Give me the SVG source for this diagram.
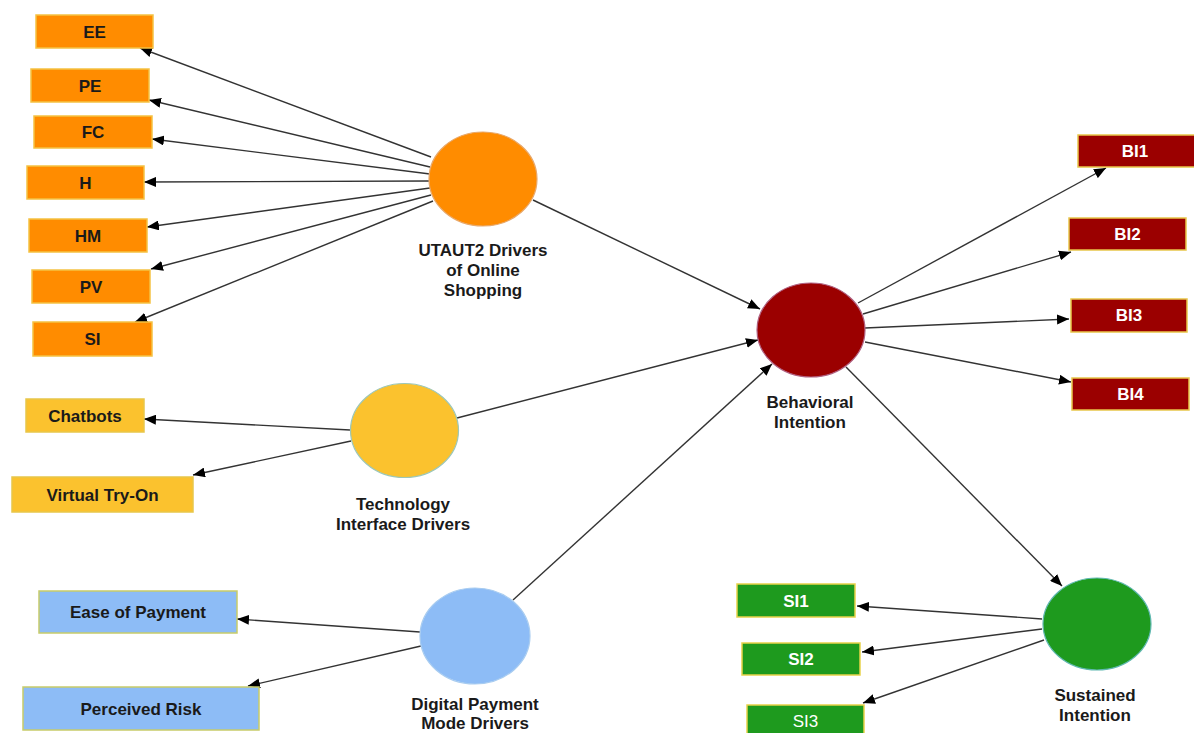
<svg xmlns="http://www.w3.org/2000/svg" width="1194" height="733" viewBox="0 0 1194 733">
<defs>
<style>
.t{font-family:"Liberation Sans",Arial,sans-serif;font-weight:bold;font-size:17px;text-anchor:middle;fill:#1a1a1a}
.w{fill:#ffffff}
.lbl{font-family:"Liberation Sans",Arial,sans-serif;font-weight:bold;font-size:17px;text-anchor:middle;fill:#1a1a1a}
.or{fill:#FF8C00;stroke:#F5C243;stroke-width:1.5}
.ye{fill:#FBC22E;stroke:#E8C64A;stroke-width:1.5}
.bl{fill:#8DBCF6;stroke:#C7CC6A;stroke-width:1.5}
.rd{fill:#9B0000;stroke:#E8C64A;stroke-width:1.5}
.gr{fill:#1E9A1E;stroke:#E8D24A;stroke-width:1.5}
.c line{stroke:#333;stroke-width:1.4;marker-end:url(#ah)}
</style>
<marker id="ah" viewBox="0 0 12 10" refX="12" refY="5" markerWidth="12" markerHeight="10" markerUnits="userSpaceOnUse" orient="auto">
<path d="M0,0 L12,5 L0,10 Z" fill="#000"/>
</marker>
</defs>
<rect width="1194" height="733" fill="#fff"/>
<g id="connectors" class="c">
<line x1="431" y1="157" x2="140" y2="48"/>
<line x1="430" y1="167" x2="149" y2="100"/>
<line x1="430" y1="174" x2="152" y2="139"/>
<line x1="429" y1="181" x2="144" y2="182"/>
<line x1="430" y1="188" x2="147" y2="227"/>
<line x1="431" y1="195" x2="151" y2="269"/>
<line x1="433" y1="201" x2="135" y2="322"/>
<line x1="350" y1="430" x2="144" y2="419"/>
<line x1="351" y1="441" x2="193" y2="475"/>
<line x1="420" y1="632" x2="237" y2="619"/>
<line x1="421" y1="646" x2="248" y2="686"/>
<line x1="533" y1="200" x2="760" y2="309"/>
<line x1="457" y1="418" x2="758" y2="340"/>
<line x1="513" y1="600" x2="772" y2="364"/>
<line x1="858" y1="303" x2="1106" y2="168"/>
<line x1="863" y1="314" x2="1071" y2="252"/>
<line x1="865" y1="328" x2="1069" y2="319"/>
<line x1="865" y1="342" x2="1071" y2="382"/>
<line x1="846" y1="367" x2="1062" y2="586"/>
<line x1="1042" y1="619" x2="857" y2="606"/>
<line x1="1042" y1="629" x2="862" y2="652"/>
<line x1="1044" y1="640" x2="863" y2="703"/>
</g>
<g id="EE"><rect class="or" x="36" y="15" width="117" height="33"/><text class="t" x="94.5" y="37.5">EE</text></g>
<g id="PE"><rect class="or" x="31" y="69" width="118" height="33"/><text class="t" x="90" y="91.5">PE</text></g>
<g id="FC"><rect class="or" x="34" y="116" width="118" height="32"/><text class="t" x="93" y="138">FC</text></g>
<g id="H"><rect class="or" x="27" y="166" width="117" height="33"/><text class="t" x="85.5" y="188.5">H</text></g>
<g id="HM"><rect class="or" x="29" y="219" width="118" height="33"/><text class="t" x="88" y="241.5">HM</text></g>
<g id="PV"><rect class="or" x="32" y="270" width="118" height="33"/><text class="t" x="91" y="292.5">PV</text></g>
<g id="SI"><rect class="or" x="33" y="322" width="119" height="34"/><text class="t" x="92.5" y="345">SI</text></g>
<g id="Chatbots"><rect class="ye" x="26" y="399" width="118" height="33"/><text class="t" x="85" y="421.5">Chatbots</text></g>
<g id="VirtualTryOn"><rect class="ye" x="12" y="477" width="181" height="35"/><text class="t" x="102.5" y="500.5">Virtual Try-On</text></g>
<g id="EaseOfPayment"><rect class="bl" x="39" y="591" width="198" height="42"/><text class="t" x="138" y="618">Ease of Payment</text></g>
<g id="PerceivedRisk"><rect class="bl" x="23" y="687" width="236" height="43"/><text class="t" x="141" y="715">Perceived Risk</text></g>
<g id="UTAUT2"><ellipse cx="483" cy="179" rx="54" ry="47" fill="#FF8C00" stroke="#E8A86A" stroke-width="1.2"/>
<text class="lbl" x="483" y="256">UTAUT2 Drivers</text><text class="lbl" x="483" y="276">of Online</text><text class="lbl" x="483" y="296">Shopping</text></g>
<g id="Technology"><ellipse cx="404.5" cy="430.5" rx="54" ry="47" fill="#FBC22E" stroke="#9CC7B8" stroke-width="1.2"/>
<text class="lbl" x="403" y="510">Technology</text><text class="lbl" x="403" y="530">Interface Drivers</text></g>
<g id="DigitalPayment"><ellipse cx="475" cy="636" rx="55" ry="48" fill="#8DBCF6" stroke="#A8CCF0" stroke-width="1.2"/>
<text class="lbl" x="475" y="710">Digital Payment</text><text class="lbl" x="475" y="729">Mode Drivers</text></g>
<g id="BehavioralIntention"><ellipse cx="811" cy="330" rx="54" ry="47" fill="#9B0000" stroke="#B06080" stroke-width="1.2"/>
<text class="lbl" x="810" y="408">Behavioral</text><text class="lbl" x="810" y="428">Intention</text></g>
<g id="SustainedIntention"><ellipse cx="1097" cy="624" rx="54" ry="46" fill="#1E9A1E" stroke="#5FB8B0" stroke-width="1.2"/>
<text class="lbl" x="1095" y="701">Sustained</text><text class="lbl" x="1095" y="721">Intention</text></g>
<g id="BI1"><rect class="rd" x="1078" y="135" width="118" height="32"/><text class="t w" x="1135" y="157">BI1</text></g>
<g id="BI2"><rect class="rd" x="1069" y="218" width="117" height="32"/><text class="t w" x="1127.5" y="240">BI2</text></g>
<g id="BI3"><rect class="rd" x="1071" y="299" width="116" height="33"/><text class="t w" x="1129" y="321">BI3</text></g>
<g id="BI4"><rect class="rd" x="1072" y="378" width="117" height="32"/><text class="t w" x="1130.5" y="400">BI4</text></g>
<g id="SI1"><rect class="gr" x="737" y="584" width="118" height="33"/><text class="t w" x="796" y="606.5">SI1</text></g>
<g id="SI2"><rect class="gr" x="742" y="643" width="118" height="32"/><text class="t w" x="801" y="665">SI2</text></g>
<g id="SI3"><rect class="gr" x="747" y="705" width="117" height="32"/><text class="t w" x="805.5" y="727" style="font-weight:normal">SI3</text></g>
</svg>
